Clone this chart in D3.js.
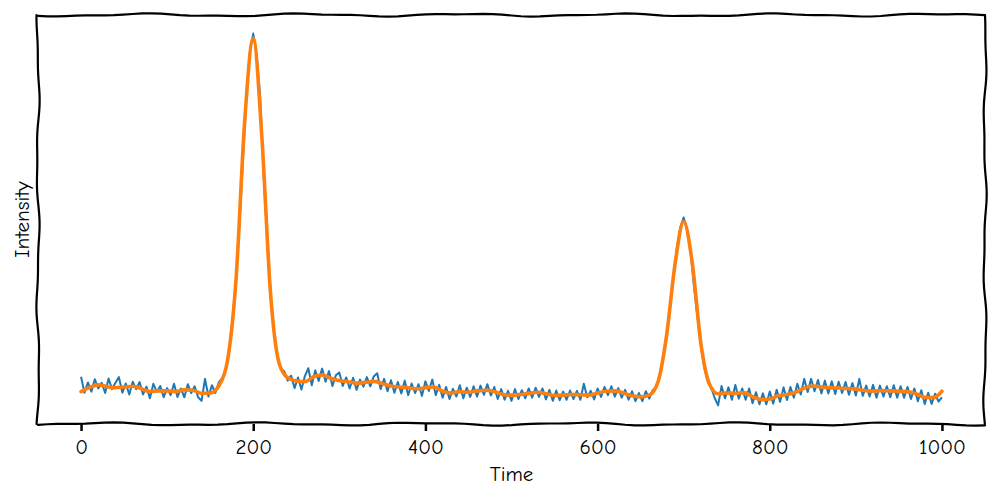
<!DOCTYPE html>
<html>
<head>
<meta charset="utf-8">
<script src="https://cdn.jsdelivr.net/npm/d3@7"></script>
<style>
body{margin:0;background:#fff;}
svg text{font-family:"Humor Sans","Comic Neue","Comic Sans MS","DejaVu Sans",sans-serif;fill:#000;}
</style>
</head>
<body>
<svg id="chart"></svg>
<script>
const w = 1000, h = 500;
const margin = {top: 15, right: 15, bottom: 76, left: 38};

// raw noisy signal, one sample every 4 time units (t = 0 .. 1000)
const rawStep = 4;
const rawValues = [
  1.36,0.91,1.20,0.94,1.29,1.03,1.19,0.90,1.31,1.01,
  1.19,1.35,0.91,1.17,0.86,1.22,1.01,1.21,0.86,1.08,
  0.75,1.16,0.93,1.10,0.78,1.04,0.84,1.16,0.79,1.03,
  0.78,1.15,0.90,1.09,0.78,0.68,1.30,0.80,1.12,0.90,
  1.20,1.32,1.55,2.10,3.00,4.05,5.66,7.45,9.25,10.52,
  11.06,10.45,9.30,7.12,5.36,3.80,2.65,1.95,1.58,1.52,
  1.25,1.39,1.04,1.34,1.00,1.38,1.60,1.12,1.54,1.24,
  1.59,1.22,1.52,1.10,1.40,1.48,1.10,1.34,1.03,1.33,
  0.99,1.28,1.08,1.35,1.09,1.37,1.46,1.01,1.30,0.95,
  1.26,0.91,1.21,0.89,1.25,0.84,1.17,0.90,1.15,0.82,
  1.23,0.96,1.28,0.84,1.13,0.77,1.07,0.73,1.02,0.80,
  1.12,0.75,1.05,0.79,1.09,0.80,1.11,0.85,1.15,0.83,
  1.07,0.73,1.01,0.71,0.96,0.68,1.01,0.73,0.98,0.75,
  1.03,0.77,1.05,0.79,1.03,0.72,0.99,0.68,0.97,0.70,
  0.94,0.71,0.97,0.73,0.96,0.71,1.16,0.78,0.96,0.72,
  1.03,0.79,1.07,0.84,1.09,0.80,1.04,0.77,0.99,0.71,
  0.95,0.67,0.90,0.67,0.95,0.74,0.98,1.05,1.40,1.85,
  2.50,3.30,4.12,4.98,5.58,5.86,5.50,4.90,3.90,3.05,
  2.22,1.62,1.22,1.05,0.76,0.55,1.10,0.75,1.06,0.71,
  1.13,0.74,1.03,0.71,1.03,0.61,0.92,0.58,0.89,0.58,
  0.94,0.60,0.99,0.65,1.06,0.70,1.07,0.77,1.16,0.86,
  1.30,0.93,1.30,0.95,1.27,0.89,1.25,0.89,1.23,0.87,
  1.22,0.90,1.21,0.85,1.18,0.83,1.30,0.82,1.11,0.80,
  1.13,0.77,1.11,0.80,1.09,0.78,1.12,0.77,1.09,0.77,
  1.07,0.73,1.03,0.67,0.98,0.59,0.91,0.59,0.88,0.66,
  0.78
];

// smoothed signal, one value every 10 time units
const smoothStep = 10;
const smoothValues = [
  0.94,1.06,1.13,1.08,1.05,1.07,1.09,1.02,0.94,0.96,
  0.96,0.94,0.99,0.98,0.89,0.90,1.10,1.80,4.10,8.55,
  10.93,8.15,3.75,1.75,1.33,1.24,1.22,1.36,1.41,1.32,
  1.25,1.22,1.18,1.20,1.23,1.17,1.10,1.07,1.05,1.02,
  1.05,1.07,0.95,0.90,0.94,0.92,0.96,0.98,0.94,0.86,
  0.84,0.86,0.89,0.92,0.88,0.83,0.84,0.86,0.85,0.84,
  0.90,0.95,0.96,0.90,0.82,0.79,0.84,1.20,2.50,4.55,
  5.75,4.57,2.30,1.15,0.88,0.90,0.89,0.91,0.80,0.71,
  0.73,0.82,0.86,0.92,1.04,1.10,1.07,1.05,1.04,1.03,
  1.01,0.97,0.95,0.97,0.96,0.95,0.94,0.88,0.78,0.77,
  0.95
];

const xTicks = [0, 200, 400, 600, 800, 1000];

const raw = rawValues.map((v, i) => ({t: i * rawStep, v: v}));
const smooth = smoothValues.map((v, i) => ({t: i * smoothStep, v: v}));

const svg = d3.select("#chart").attr("width", w).attr("height", h);

// matplotlib style 5% margins
const tMin = 0, tMax = 1000;
const tPad = (tMax - tMin) * 0.05;
const x = d3.scaleLinear()
  .domain([tMin - tPad, tMax + tPad])
  .range([margin.left, w - margin.right]);

const [vMin, vMax] = d3.extent(rawValues);
const vPad = (vMax - vMin) * 0.05;
const y = d3.scaleLinear()
  .domain([vMin - vPad, vMax + vPad])
  .range([h - margin.bottom, margin.top]);

// lines
const rawLine = d3.line().x(d => x(d.t)).y(d => y(d.v));
const smoothLine = d3.line().x(d => x(d.t)).y(d => y(d.v)).curve(d3.curveMonotoneX);

svg.append("path")
  .datum(raw)
  .attr("d", rawLine)
  .attr("fill", "none")
  .attr("stroke", "#1f77b4")
  .attr("stroke-width", 2)
  .attr("stroke-linejoin", "round");

svg.append("path")
  .datum(smooth)
  .attr("d", smoothLine)
  .attr("fill", "none")
  .attr("stroke", "#ff7f0e")
  .attr("stroke-width", 3.6)
  .attr("stroke-linejoin", "round")
  .attr("stroke-linecap", "round");

// hand drawn looking frame
let wobble = (x0, y0, x1, y1, waves, phase) => {
  const len = Math.hypot(x1 - x0, y1 - y0);
  const nx = -(y1 - y0) / len, ny = (x1 - x0) / len;
  return d3.range(0, 101).map(i => {
    const f = i / 100;
    const off = 1.2 * Math.sin(f * Math.PI * 2 * waves + phase) + 0.5 * Math.sin(f * Math.PI * 2 * waves * 2.3 + phase * 1.7);
    return [x0 + (x1 - x0) * f + nx * off, y0 + (y1 - y0) * f + ny * off];
  });
};
const L = x.range()[0], R = x.range()[1], T = y.range()[1], B = y.range()[0];
const frame = svg.append("g").attr("fill", "none").attr("stroke", "#000").attr("stroke-width", 2.2).attr("stroke-linecap", "round");
[[L, T, R, T, 6, 0.4], [L, B, R, B, 6, 2.1], [L, T, L, B, 3, 1.0], [R, T, R, B, 3, 2.7]].forEach(s => {
  frame.append("path").attr("d", d3.line()(wobble(...s)));
});

// x axis
const xAxis = d3.axisBottom(x).tickValues(xTicks).tickSize(7).tickPadding(8).tickFormat(d3.format("d"));
const gx = svg.append("g")
  .attr("transform", "translate(0," + B + ")")
  .call(xAxis);
gx.select(".domain").remove();
gx.selectAll(".tick line").attr("stroke", "#000").attr("stroke-width", 2.5);
gx.selectAll(".tick text").attr("font-size", 21).attr("font-family", null);

svg.append("text")
  .attr("x", (L + R) / 2)
  .attr("y", 481)
  .attr("text-anchor", "middle")
  .attr("font-size", 21)
  .text("Time");

svg.append("text")
  .attr("transform", "translate(29," + ((T + B) / 2) + ") rotate(-90)")
  .attr("text-anchor", "middle")
  .attr("font-size", 21)
  .text("Intensity");
</script>
</body>
</html>
